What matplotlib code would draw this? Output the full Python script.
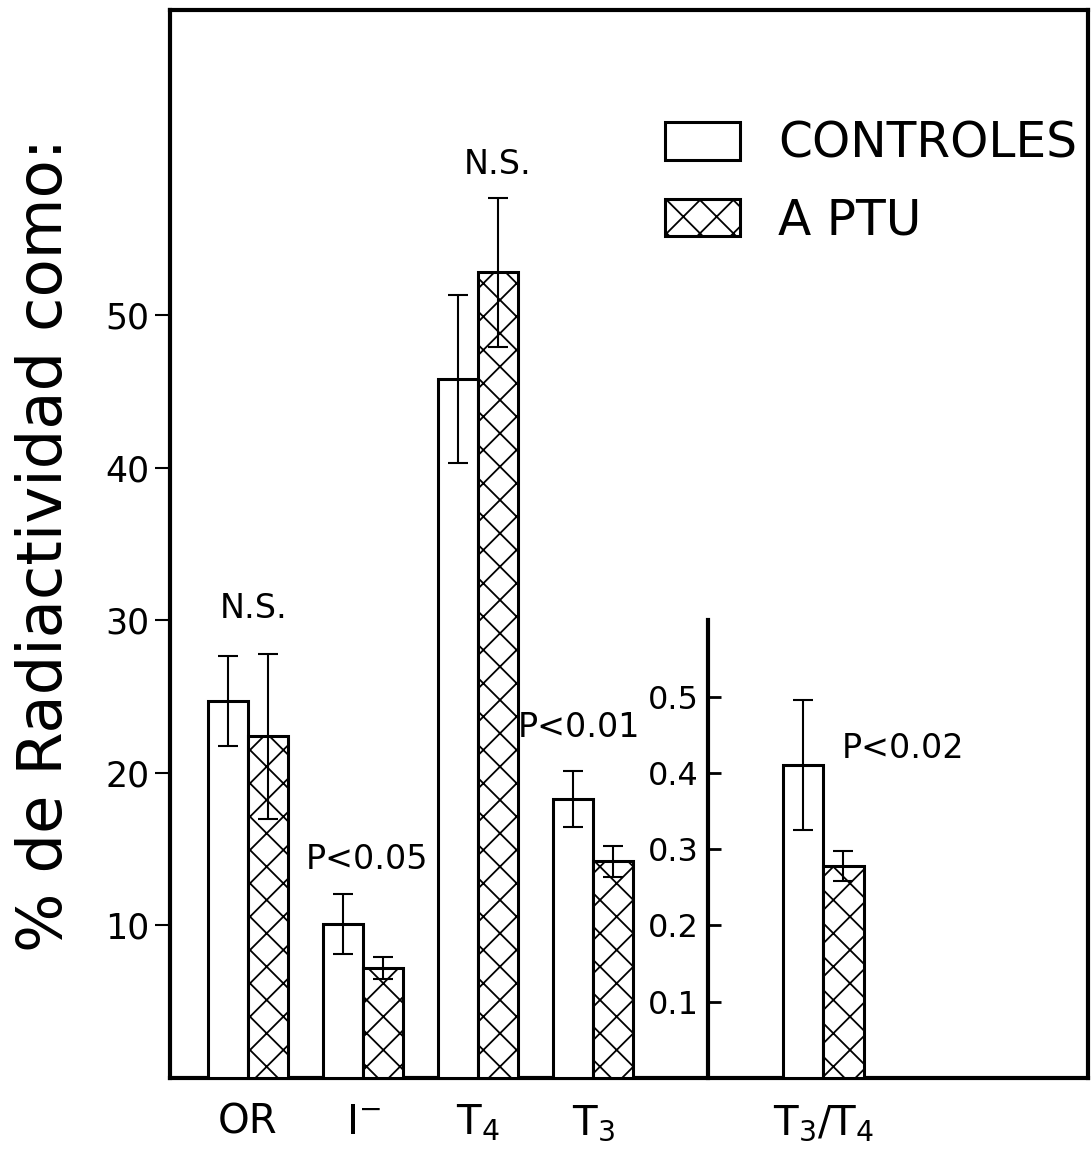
import matplotlib
matplotlib.use("Agg")
import matplotlib.pyplot as plt
import numpy as np

plt.rcParams['font.family'] = ['DejaVu Sans']
plt.rcParams['mathtext.default'] = 'regular'
plt.rcParams['hatch.linewidth'] = 1.3

# ---- data ----
categories = ['OR', r'$I^{-}$', r'$T_4$', r'$T_3$']
control = [24.7, 10.1, 45.8, 18.3]
control_err = [2.95, 1.95, 5.5, 1.85]
ptu = [22.4, 7.2, 52.8, 14.2]
ptu_err = [5.4, 0.7, 4.9, 1.0]

ratio_label = r'$T_3/T_4$'
ratio_control = [0.41]
ratio_control_err = [0.085]
ratio_ptu = [0.278]
ratio_ptu_err = [0.02]

series_names = ['CONTROLES', 'A PTU']
pvals = ['N.S.', 'P<0.05', 'N.S.', 'P<0.01']
ratio_pval = 'P<0.02'
yticks = [10, 20, 30, 40, 50]
ratio_ticks = [0.1, 0.2, 0.3, 0.4, 0.5]

# ---- layout ----
W, H = 1091, 1158
fig = plt.figure(figsize=(W / 100, H / 100), dpi=100)
rect = [170 / W, (H - 1078) / H, (1088 - 170) / W, (1078 - 10) / H]
ax = fig.add_axes(rect)

x = np.arange(len(categories))
xr = 5.0
bw = 0.35
xlim = (-0.678, 7.30)

err_kw = dict(ecolor='black', elinewidth=1.5, capsize=7, capthick=1.5, zorder=5)
b1 = ax.bar(x - bw / 2, control, bw, color='white', edgecolor='black', linewidth=2.2, zorder=3)
b2 = ax.bar(x + bw / 2, ptu, bw, color='white', edgecolor='black', linewidth=2.2, hatch='x', zorder=3)
ax.errorbar(x - bw / 2, control, yerr=control_err, fmt='none', **err_kw)
ax.errorbar(x + bw / 2, ptu, yerr=ptu_err, fmt='none', **err_kw)

ax.set_xlim(*xlim)
ax.set_ylim(0, 70)
ax.set_yticks(yticks)
ax.set_yticklabels([str(v) for v in yticks], fontsize=25)
ax.tick_params(axis='y', direction='out', length=11, width=1.5, pad=4)
ax.set_xticks(list(x) + [xr])
ax.set_xticklabels(categories + [ratio_label], fontsize=29)
ax.tick_params(axis='x', length=0, pad=18)
for s in ax.spines.values():
    s.set_linewidth(3)

# annotations
ann_pos = [(0.05, 30.8), (1.03, 14.3), (2.17, 59.9), (2.88, 23.0)]
for txt, (px, py) in zip(pvals, ann_pos):
    ax.text(px, py, txt, ha='center', va='center', fontsize=24)

# ---- inner ratio axis ----
ax2 = fig.add_axes(rect, facecolor='none')
ax2.set_xlim(*xlim)
ax2.set_ylim(0, 1.4)
for k in ['top', 'right', 'bottom']:
    ax2.spines[k].set_visible(False)
ax2.spines['left'].set_position(('data', 4.0))
ax2.spines['left'].set_bounds(0, 0.6)
ax2.spines['left'].set_linewidth(3)
ax2.set_xticks([])
ax2.set_yticks(ratio_ticks)
ax2.set_yticklabels([f'{v:.1f}' for v in ratio_ticks], fontsize=23)
ax2.tick_params(axis='y', direction='in', length=9, width=2, pad=7)
ax2.bar([xr - bw / 2], ratio_control, bw, color='white', edgecolor='black', linewidth=2.2, zorder=3)
ax2.bar([xr + bw / 2], ratio_ptu, bw, color='white', edgecolor='black', linewidth=2.2, hatch='x', zorder=3)
ax2.errorbar([xr - bw / 2], ratio_control, yerr=ratio_control_err, fmt='none', **err_kw)
ax2.errorbar([xr + bw / 2], ratio_ptu, yerr=ratio_ptu_err, fmt='none', **err_kw)
ax2.text(5.69, 0.432, ratio_pval, ha='center', va='center', fontsize=24)

# legend
leg = fig.legend([b1, b2], series_names, loc='upper left',
                 bbox_to_anchor=(665 / W, 1 - 120 / H), bbox_transform=fig.transFigure,
                 frameon=False, fontsize=35, handlelength=1.55, handleheight=0.81,
                 handletextpad=0.77, labelspacing=0.58, borderpad=0, borderaxespad=0)

# y label
fig.text(45 / W, 1 - 545 / H, '% de Radiactividad como:', rotation=90,
         ha='center', va='center', fontsize=45)

fig.savefig('out.png', dpi=100)
